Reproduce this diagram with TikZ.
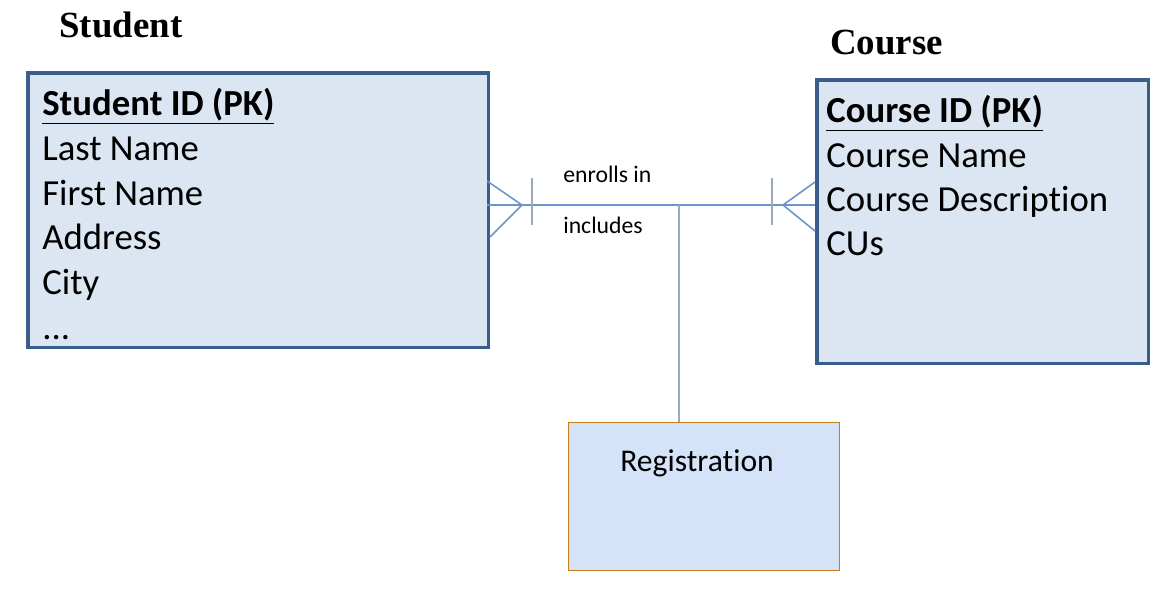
\documentclass[tikz,border=0pt]{standalone}
\usepackage{xcolor}
\usepackage{fontspec}
\setmainfont[Ligatures=NoCommon]{Carlito}
\newfontfamily\titlefont{Liberation Serif}
\definecolor{boxline}{HTML}{3A5D8C}
\definecolor{boxfill}{HTML}{DCE6F2}
\definecolor{regfill}{HTML}{D5E3F9}
\definecolor{regline}{HTML}{C47F1C}
\definecolor{relline}{HTML}{6C94CA}
\definecolor{tickline}{HTML}{9AAAB8}
\begin{document}
\begin{tikzpicture}[x=0.02cm,y=-0.02cm,%
% common options for the entity boxes:
entity/.style = {draw=boxline, line width=2pt, fill=boxfill, anchor=north west,
            inner sep=0},
% common options for the titles and attribute lines:
title/.style = {anchor=base west, inner sep=0, font=\titlefont\bfseries\fontsize{21}{25}\selectfont},
attr/.style = {anchor=base west, inner sep=0, font=\fontsize{20.9}{25}\selectfont},
rel/.style = {draw=relline, line width=0.9pt},
relbar/.style = {draw=tickline, line width=0.6pt}]
\useasboundingbox (0,0) rectangle (1164,592);
\node[entity,minimum width=9.22cm,minimum height=5.5cm] (stud) at (26,71) {};
\node[entity,minimum width=6.64cm,minimum height=5.68cm] (course) at (815,78) {};
\node[draw=regline,line width=0.8pt,fill=regfill,anchor=north west,inner sep=0,
      minimum width=5.42cm,minimum height=2.96cm] (reg) at (568,422) {};
\node[title] (S0) at (59,37) {Student};
\node[title] (C0) at (830,54) {Course};
\node[attr] (S1) at (42,115) {\textbf{\underline{Student ID (PK)}}};
\node[attr] (S2) at (42,160) {Last Name};
\node[attr] (S3) at (42,205) {First Name};
\node[attr] (S4) at (42,249) {Address};
\node[attr] (S5) at (42,294) {City};
\node[attr] (S6) at (42,339) {...};
\node[attr] (C1) at (826,122) {\textbf{\underline{Course ID (PK)}}};
\node[attr] (C2) at (826,167) {Course Name};
\node[attr] (C3) at (826,211) {Course Description};
\node[attr] (C4) at (826,255) {CUs};
\node[anchor=base west,inner sep=0,font=\fontsize{13.5}{16}\selectfont] (R1) at (563,182) {enrolls in};
\node[anchor=base west,inner sep=0,font=\fontsize{13.5}{16}\selectfont] (R2) at (563,233) {includes};
\node[anchor=base west,inner sep=0,font=\fontsize{18}{21}\selectfont] (R3) at (620,471) {Registration};
% relationship line with crow's feet
\coordinate (sL) at (487,205);
\coordinate (sV) at (522,205);
\coordinate (cR) at (815,205);
\coordinate (cV) at (783,205);
\coordinate (J) at (679,205);
\draw[rel] (sL) to (cR);
\draw[rel] (487,181) -- (sV) -- (490,237);
\draw[rel] (815,182) -- (cV) -- (815,231);
\draw[relbar] (532,178) -- (532,225);
\draw[relbar] (772,178) -- (772,225);
\draw[relbar] (J) to (J |- reg.north);
\end{tikzpicture}
\end{document}
